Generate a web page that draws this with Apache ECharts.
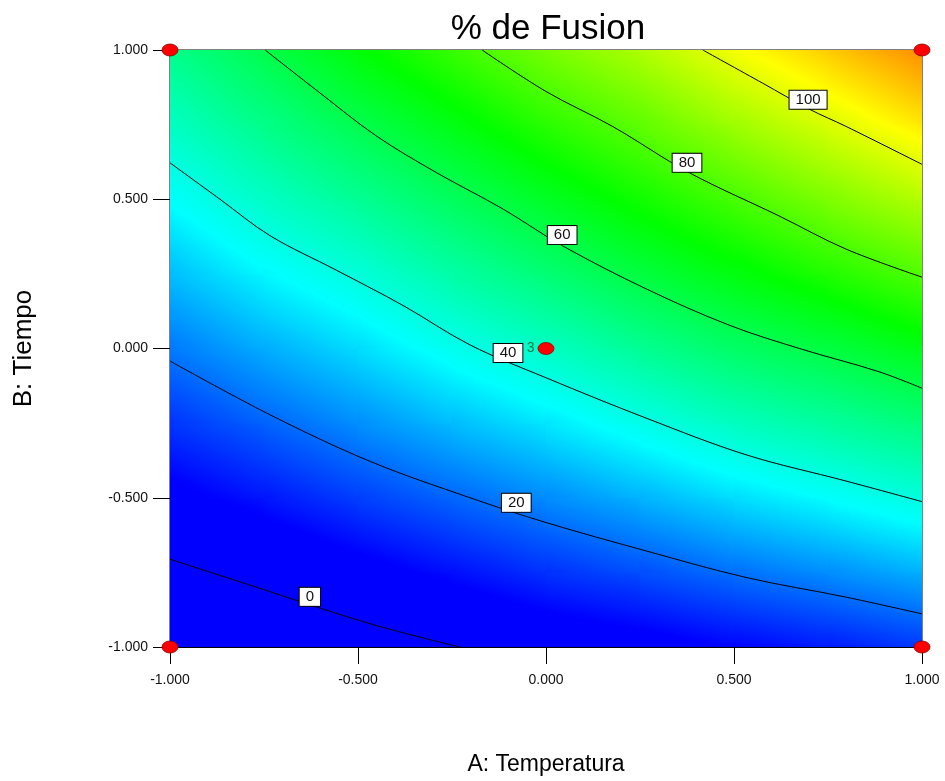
<!DOCTYPE html>
<html><head><meta charset="utf-8">
<script src="https://cdn.jsdelivr.net/npm/echarts@6/dist/echarts.min.js"></script>
<style>html,body{margin:0;padding:0;background:#fff}#c{width:945px;height:781px}</style>
</head><body><div id="c"></div>
<script>
// ---- data ----
const xGrid = [-1, -0.75, -0.5, -0.25, 0, 0.25, 0.5, 0.75, 1];
const yGrid = [-1, -0.75, -0.5, -0.25, 0, 0.25, 0.5, 0.75, 1];
// response values, one row per yGrid value, one column per xGrid value
const fusionRows = [
  [-8.9, -6.9, -3.5, -0.3, 3.2, 5.4, 8.2, 10.9, 14.1],
  [-1.3, 1.6, 5.7, 9.4, 13.3, 16.5, 20.3, 23.6, 27.4],
  [6.2, 10.2, 14.8, 19.1, 23.3, 27.7, 32.3, 36.3, 40.7],
  [13.7, 18.7, 23.7, 28.7, 33.4, 38.8, 44.4, 48.9, 53.8],
  [21.3, 27.0, 32.2, 38.2, 43.7, 50.3, 56.5, 61.4, 67.2],
  [28.8, 35.3, 40.8, 47.9, 54.5, 61.7, 68.0, 74.2, 80.6],
  [36.3, 43.5, 50.2, 57.6, 65.1, 72.1, 79.2, 86.7, 93.8],
  [43.9, 51.8, 59.7, 67.4, 75.4, 82.6, 91.0, 98.9, 107.0],
  [51.4, 60.0, 69.1, 77.2, 85.8, 93.0, 102.7, 111.1, 120.3]
];
const contourLevels = [0, 20, 40, 60, 80, 100];
const contour0 = [[-1, -0.706], [-0.823, -0.778], [-0.468, -0.922], [-0.229, -1.0]];
const contour20 = [[-1, -0.042], [-0.734, -0.222], [-0.468, -0.378], [-0.202, -0.5], [0.0, -0.583], [0.266, -0.678], [0.532, -0.767], [0.798, -0.833], [1.0, -0.889]];
const contour40 = [[-1, 0.622], [-0.867, 0.5], [-0.734, 0.378], [-0.557, 0.262], [-0.380, 0.144], [-0.202, 0.012], [0.0, -0.098], [0.266, -0.233], [0.532, -0.356], [0.798, -0.444], [1.0, -0.513]];
const contour60 = [[-0.747, 1.0], [-0.601, 0.856], [-0.450, 0.711], [-0.291, 0.589], [-0.114, 0.467], [0.044, 0.344], [0.266, 0.2], [0.4875, 0.078], [0.674, 0.0], [0.886, -0.078], [1.0, -0.133]];
const contour80 = [[-0.17, 1.0], [0.0, 0.861], [0.177, 0.744], [0.381, 0.589], [0.620, 0.444], [0.798, 0.333], [1.0, 0.239]];
const contour100 = [[0.417, 1.0], [0.576, 0.889], [0.700, 0.802], [0.798, 0.744], [1.0, 0.617]];
const labelX = [-0.628, -0.079, -0.101, 0.043, 0.375, 0.697];
const labelY = [-0.832, -0.517, -0.015, 0.380, 0.622, 0.833];
const designX = [-1, 1, -1, 1, 0];
const designY = [-1, -1, 1, 1, 0];
const designReps = [1, 1, 1, 1, 3];
const tickLabels = ['-1.000', '-0.500', '0.000', '0.500', '1.000'];
const colorValues = [8, 36, 70, 104, 140];
const colorHex = ['#0000ff', '#00ffff', '#00ff00', '#ffff00', '#ff0000'];

// ---- helpers ----
const FONT = '"Liberation Sans", Arial, sans-serif';
const rgb = colorHex.map(h => [parseInt(h.substr(1,2),16), parseInt(h.substr(3,2),16), parseInt(h.substr(5,2),16)]);
function colorAt(v) {
  if (v <= colorValues[0]) return colorHex[0];
  const n = colorValues.length;
  if (v >= colorValues[n-1]) return colorHex[n-1];
  for (let i = 0; i < n-1; i++) {
    if (v <= colorValues[i+1]) {
      const t = (v - colorValues[i]) / (colorValues[i+1] - colorValues[i]);
      const a = rgb[i], b = rgb[i+1];
      return 'rgb(' + Math.round(a[0]+(b[0]-a[0])*t) + ',' + Math.round(a[1]+(b[1]-a[1])*t) + ',' + Math.round(a[2]+(b[2]-a[2])*t) + ')';
    }
  }
  return colorHex[n-1];
}
const cells = [];
for (let j = 0; j < yGrid.length-1; j++) {
  for (let i = 0; i < xGrid.length-1; i++) {
    cells.push([xGrid[i], yGrid[j], xGrid[i+1], yGrid[j+1],
      fusionRows[j][i], fusionRows[j][i+1], fusionRows[j+1][i], fusionRows[j+1][i+1]]);
  }
}
function renderCell(params, api) {
  const x0 = api.value(0), y0 = api.value(1), x1 = api.value(2), y1 = api.value(3);
  const v00 = api.value(4), v10 = api.value(5), v01 = api.value(6), v11 = api.value(7);
  const pA = api.coord([x0, y0]), pB = api.coord([x1, y1]);
  const rx = pA[0], ry = pB[1], w = pB[0]-pA[0], h = pA[1]-pB[1];
  const gx = ((v10-v00)+(v11-v01))/2/w;
  const gy = ((v00-v01)+(v10-v11))/2/h;
  const g = Math.hypot(gx, gy);
  const cx = rx + w/2, cy = ry + h/2, vc = (v00+v10+v01+v11)/4;
  let fill;
  if (g < 1e-9) { fill = colorAt(vc); }
  else {
    const ux = gx/g, uy = gy/g;
    const L = Math.abs(ux)*w/2 + Math.abs(uy)*h/2 + 1;
    const vS = vc - g*L, vE = vc + g*L;
    const stops = [{offset: 0, color: colorAt(vS)}];
    colorValues.forEach(s => { if (s > vS && s < vE) stops.push({offset: (s-vS)/(vE-vS), color: colorAt(s)}); });
    stops.push({offset: 1, color: colorAt(vE)});
    fill = {type: 'linear', x: cx-ux*L, y: cy-uy*L, x2: cx+ux*L, y2: cy+uy*L, global: true, colorStops: stops};
  }
  return {type: 'rect', shape: {x: rx-0.5, y: ry-0.5, width: w+1, height: h+1}, style: {fill: fill}};
}
const contours = [contour0, contour20, contour40, contour60, contour80, contour100];
const lineSeries = contours.map((pts, k) => ({
  type: 'line', name: 'c' + contourLevels[k], data: pts, smooth: 0.35, symbol: 'none', z: 3,
  lineStyle: {color: '#000', width: 1}, silent: true, animation: false
}));
const tickFmt = v => tickLabels[Math.round((v + 1) / 0.5)];
const ellipse = 'path://M0,5A5,5 0 1 1 10,5A5,5 0 1 1 0,5Z';

const option = {
  animation: false,
  backgroundColor: '#fff',
  title: {text: '% de Fusion', left: 543, textAlign: 'center', top: 7,
    textStyle: {fontSize: 35, fontWeight: 'normal', color: '#000', fontFamily: FONT}},
  grid: {left: 170, right: 23, top: 50, bottom: 131, show: true, borderColor: '#000', borderWidth: 1, backgroundColor: 'transparent'},
  xAxis: {type: 'value', min: -1, max: 1, interval: 0.5,
    name: 'A: Temperatura', nameLocation: 'middle', nameGap: 106,
    nameTextStyle: {fontSize: 23, color: '#000', fontFamily: FONT},
    axisLine: {show: true, onZero: false, lineStyle: {color: '#000', width: 1}},
    axisTick: {show: true, length: 17, lineStyle: {color: '#000'}},
    axisLabel: {margin: 26, fontSize: 14, color: '#111', fontFamily: FONT, formatter: tickFmt},
    splitLine: {show: false}},
  yAxis: {type: 'value', min: -1, max: 1, interval: 0.5,
    name: 'B: Tiempo', nameLocation: 'middle', nameGap: 133,
    nameTextStyle: {fontSize: 26, color: '#000', fontFamily: FONT},
    axisLine: {show: true, onZero: false, lineStyle: {color: '#000', width: 1}},
    axisTick: {show: true, length: 17, lineStyle: {color: '#000'}},
    axisLabel: {margin: 22, fontSize: 14, color: '#111', fontFamily: FONT, formatter: tickFmt},
    splitLine: {show: false}},
  series: [
    {type: 'custom', data: cells, renderItem: renderCell, encode: {x: [0, 2], y: [1, 3]}, z: 1, silent: true, clip: true},
    ...lineSeries,
    {type: 'scatter', data: labelX.map((x, i) => [x, labelY[i], contourLevels[i]]), symbol: 'rect', symbolSize: 1,
      itemStyle: {color: 'rgba(0,0,0,0)', opacity: 1}, z: 4, silent: true,
      label: {show: true, position: 'inside', formatter: p => String(p.value[2]), backgroundColor: '#fff',
        borderColor: '#000', borderWidth: 1, padding: [2, 6, 1, 6], fontSize: 15, color: '#111', fontFamily: FONT}},
    {type: 'scatter', z: 5, clip: false, silent: true, symbol: ellipse, symbolSize: [16, 12],
      itemStyle: {color: '#ff0000', borderColor: '#8a0000', borderWidth: 0.8, opacity: 1},
      data: designX.map((x, i) => ({value: [x, designY[i], designReps[i]],
        label: {show: designReps[i] > 1, formatter: String(designReps[i]), position: 'left', distance: 3,
          fontSize: 14, color: '#127a48', fontFamily: FONT}}))}
  ]
};
const chart = echarts.init(document.getElementById('c'), null, {renderer: 'canvas'});
chart.setOption(option);
</script></body></html>
